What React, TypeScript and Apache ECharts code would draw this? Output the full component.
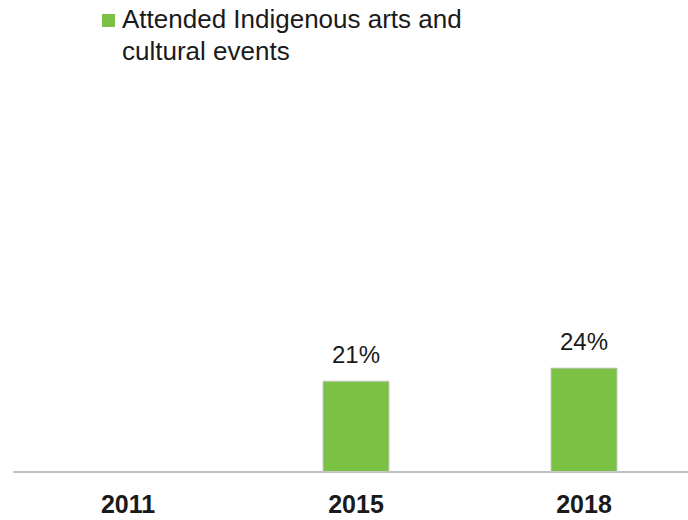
import React, { useEffect, useRef } from "react";
import * as echarts from "echarts";

const categories = ["2011", "2015", "2018"];
const seriesName = "Attended Indigenous arts and cultural events";
const legendLines = ["Attended Indigenous arts and", "cultural events"];
const values: (number | null)[] = [null, 21, 24];

const FONT = "Liberation Sans, Arial, sans-serif";
const GREEN = "#7bc143";

export default function App() {
  const ref = useRef<HTMLDivElement>(null);
  useEffect(() => {
    const chart = echarts.init(ref.current!, null, { renderer: "svg" });
    chart.setOption({
      animation: false,
      backgroundColor: "#ffffff",
      graphic: [
        {
          type: "rect",
          left: 102,
          top: 14,
          shape: { width: 13, height: 13 },
          style: { fill: GREEN },
        },
        ...legendLines.map((line, i) => ({
          type: "text",
          x: 122,
          y: 18.5 + i * 32,
          style: {
            text: line,
            font: `26px ${FONT}`,
            fill: "#1a1a1a",
            verticalAlign: "middle",
            align: "left",
          },
        })),
      ],
      grid: { left: 14, top: 37, width: 684, height: 435 },
      xAxis: {
        type: "category",
        data: categories,
        axisLine: { lineStyle: { color: "#bfbfbf", width: 2 } },
        axisTick: { show: false },
        axisLabel: {
          margin: 19,
          fontFamily: FONT,
          fontSize: 25,
          fontWeight: "bold",
          color: "#1a1a1a",
        },
      },
      yAxis: {
        type: "value",
        min: 0,
        max: 100,
        show: false,
        splitLine: { show: false },
      },
      series: [
        {
          name: seriesName,
          type: "bar",
          data: values,
          barWidth: 67,
          itemStyle: { color: GREEN, borderColor: "#c8c8c8", borderWidth: 1 },
          label: {
            show: true,
            position: "top",
            distance: 14,
            formatter: "{c}%",
            fontFamily: FONT,
            fontSize: 24,
            color: "#1a1a1a",
          },
        },
      ],
    });
    return () => chart.dispose();
  }, []);
  return (
    <div style={{ width: 688, height: 520, position: "absolute", left: 0, top: 0, overflow: "hidden" }}>
      <div ref={ref} style={{ width: 700, height: 520 }} />
    </div>
  );
}
